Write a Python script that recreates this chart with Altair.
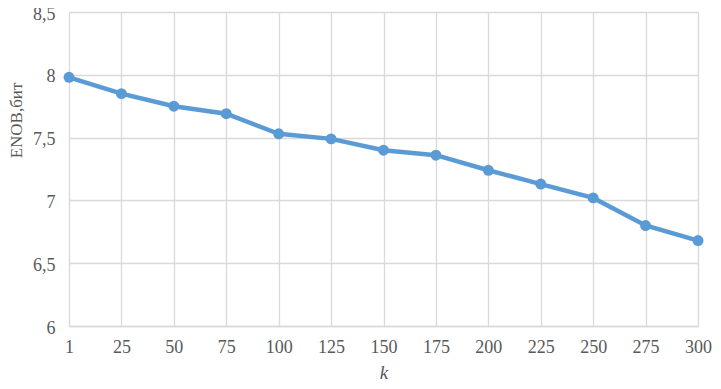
import altair as alt
import pandas as pd

k_values = ["1", "25", "50", "75", "100", "125", "150", "175", "200", "225", "250", "275", "300"]
enob = [7.98, 7.85, 7.75, 7.69, 7.53, 7.49, 7.40, 7.36, 7.24, 7.13, 7.02, 6.80, 6.68]

df = pd.DataFrame({"k": k_values, "enob": enob})

FONT = "Liberation Serif"
COLOR = "#5B9BD5"
TXT = "#595959"

base = alt.Chart(df).encode(
    x=alt.X("k:O", sort=k_values,
            scale=alt.Scale(type="point", padding=0),
            axis=alt.Axis(title="k", titleFontStyle="italic", titleFont=FONT,
                          titleFontSize=19, titleFontWeight="normal", titleColor=TXT,
                          titlePadding=7,
                          labelAngle=0, labelFont=FONT, labelFontSize=18, labelColor=TXT,
                          labelPadding=12, ticks=False, grid=True, gridColor="#d9d9d9",
                          gridWidth=1.3, domainColor="#d9d9d9", domainWidth=1.3)),
    y=alt.Y("enob:Q",
            scale=alt.Scale(domain=[6, 8.5], nice=False, zero=False),
            axis=alt.Axis(title="ENOB,бит", titleFont=FONT, titleFontSize=17,
                          titleFontWeight="normal", titleColor=TXT,
                          titleX=-53, titleY=108, titleBaseline="middle",
                          titleAlign="center", titleAngle=270,
                          values=[6, 6.5, 7, 7.5, 8, 8.5],
                          labelExpr="replace(toString(datum.value), '.', ',')",
                          labelFont=FONT, labelFontSize=18, labelColor=TXT,
                          labelPadding=14, labelOffset=2, ticks=False, domain=False,
                          grid=True, gridColor="#d9d9d9", gridWidth=1.3)),
)

line = base.mark_line(color=COLOR, strokeWidth=4.5)
pts = base.mark_point(color=COLOR, filled=True, opacity=1, size=120)

chart = (line + pts).properties(
    width=629, height=314,
    autosize=alt.AutoSizeParams(type="none"),
    padding={"left": 61, "top": 4, "right": 15, "bottom": 55},
).configure_view(stroke=None)

chart.save("out.html", embed_options={"renderer": "svg", "actions": False})
